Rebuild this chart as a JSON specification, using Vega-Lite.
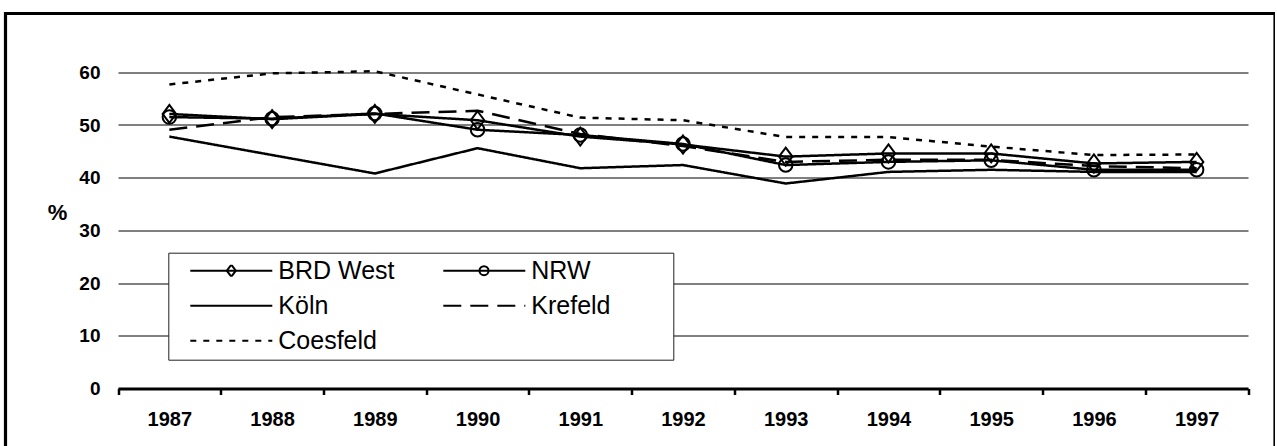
{
  "$schema": "https://vega.github.io/schema/vega-lite/v6.json",
  "width": 1269.5,
  "height": 440,
  "autosize": {"type": "none"},
  "padding": {"left": 5.5, "top": 13.5, "right": 0, "bottom": 0},
  "background": "white",
  "config": {
    "view": {"stroke": "#000", "strokeWidth": 3.2, "fill": "white"},
    "font": "Liberation Sans"
  },
  "data": {
    "values": [
      {"year": "1987", "series": "BRD West", "value": 52.1},
      {"year": "1988", "series": "BRD West", "value": 51.1},
      {"year": "1989", "series": "BRD West", "value": 52.1},
      {"year": "1990", "series": "BRD West", "value": 50.9},
      {"year": "1991", "series": "BRD West", "value": 47.8},
      {"year": "1992", "series": "BRD West", "value": 46.3},
      {"year": "1993", "series": "BRD West", "value": 44.0},
      {"year": "1994", "series": "BRD West", "value": 44.6},
      {"year": "1995", "series": "BRD West", "value": 44.6},
      {"year": "1996", "series": "BRD West", "value": 42.7},
      {"year": "1997", "series": "BRD West", "value": 43.0},
      {"year": "1987", "series": "NRW", "value": 51.5},
      {"year": "1988", "series": "NRW", "value": 51.2},
      {"year": "1989", "series": "NRW", "value": 52.2},
      {"year": "1990", "series": "NRW", "value": 49.1},
      {"year": "1991", "series": "NRW", "value": 48.1},
      {"year": "1992", "series": "NRW", "value": 46.4},
      {"year": "1993", "series": "NRW", "value": 42.4},
      {"year": "1994", "series": "NRW", "value": 43.0},
      {"year": "1995", "series": "NRW", "value": 43.3},
      {"year": "1996", "series": "NRW", "value": 41.5},
      {"year": "1997", "series": "NRW", "value": 41.5},
      {"year": "1987", "series": "Köln", "value": 47.8},
      {"year": "1988", "series": "Köln", "value": 44.3},
      {"year": "1989", "series": "Köln", "value": 40.8},
      {"year": "1990", "series": "Köln", "value": 45.6},
      {"year": "1991", "series": "Köln", "value": 41.8},
      {"year": "1992", "series": "Köln", "value": 42.4},
      {"year": "1993", "series": "Köln", "value": 38.9},
      {"year": "1994", "series": "Köln", "value": 41.1},
      {"year": "1995", "series": "Köln", "value": 41.5},
      {"year": "1996", "series": "Köln", "value": 41.1},
      {"year": "1997", "series": "Köln", "value": 41.1},
      {"year": "1987", "series": "Krefeld", "value": 49.1},
      {"year": "1988", "series": "Krefeld", "value": 51.5},
      {"year": "1989", "series": "Krefeld", "value": 52.1},
      {"year": "1990", "series": "Krefeld", "value": 52.7},
      {"year": "1991", "series": "Krefeld", "value": 48.3},
      {"year": "1992", "series": "Krefeld", "value": 46.0},
      {"year": "1993", "series": "Krefeld", "value": 43.0},
      {"year": "1994", "series": "Krefeld", "value": 43.4},
      {"year": "1995", "series": "Krefeld", "value": 43.4},
      {"year": "1996", "series": "Krefeld", "value": 42.2},
      {"year": "1997", "series": "Krefeld", "value": 41.8},
      {"year": "1987", "series": "Coesfeld", "value": 57.7},
      {"year": "1988", "series": "Coesfeld", "value": 59.8},
      {"year": "1989", "series": "Coesfeld", "value": 60.2},
      {"year": "1990", "series": "Coesfeld", "value": 55.8},
      {"year": "1991", "series": "Coesfeld", "value": 51.4},
      {"year": "1992", "series": "Coesfeld", "value": 50.9},
      {"year": "1993", "series": "Coesfeld", "value": 47.7},
      {"year": "1994", "series": "Coesfeld", "value": 47.7},
      {"year": "1995", "series": "Coesfeld", "value": 45.9},
      {"year": "1996", "series": "Coesfeld", "value": 44.3},
      {"year": "1997", "series": "Coesfeld", "value": 44.4}
    ]
  },
  "encoding": {
    "x": {
      "field": "year",
      "type": "ordinal",
      "scale": {"type": "band", "range": [112.5, 1242.5], "paddingInner": 0, "paddingOuter": 0},
      "axis": {
        "orient": "bottom",
        "offset": -65,
        "title": null,
        "grid": false,
        "domain": true,
        "domainColor": "#000",
        "domainWidth": 3,
        "ticks": true,
        "tickBand": "extent",
        "tickColor": "#000",
        "tickWidth": 2.5,
        "tickSize": 6,
        "labelFont": "Liberation Sans",
        "labelFontWeight": "bold",
        "labelFontSize": 20,
        "labelColor": "#000",
        "labelPadding": 15,
        "labelAngle": 0
      }
    },
    "y": {
      "field": "value",
      "type": "quantitative",
      "scale": {"domain": [0, 60], "range": [375, 58.8], "nice": false, "zero": false},
      "axis": {
        "values": [0, 10, 20, 30, 40, 50, 60],
        "offset": -94.5,
        "domain": false,
        "ticks": false,
        "tickSize": 0,
        "labelPadding": 0,
        "grid": true,
        "gridColor": "#000",
        "gridWidth": 1,
        "gridOpacity": 1,
        "labelFont": "Liberation Sans",
        "labelFontWeight": "bold",
        "labelFontSize": 19,
        "labelColor": "#000",
        "title": "%",
        "titleAngle": 0,
        "titleFont": "Liberation Sans",
        "titleFontWeight": "bold",
        "titleFontSize": 22,
        "titleColor": "#000",
        "titleX": -43,
        "titleY": 198.5,
        "titleAlign": "center",
        "titleBaseline": "middle"
      }
    }
  },
  "layer": [
    {
      "mark": {"type": "line", "color": "#000", "strokeWidth": 2.5},
      "encoding": {
        "detail": {"field": "series", "type": "nominal"},
        "strokeDash": {
          "field": "series",
          "type": "nominal",
          "scale": {
            "domain": ["BRD West", "Köln", "Coesfeld", "NRW", "Krefeld"],
            "range": [[1, 0], [1, 0], [6, 7], [1, 0], [18, 9]]
          },
          "legend": {
            "title": " ",
            "titleOrient": "right",
            "titlePadding": 57,
            "titleFontSize": 1,
            "orient": "none",
            "legendX": 162.8,
            "legendY": 239.2,
            "zindex": 1,
            "columns": 2,
            "gridAlign": "all",
            "columnPadding": 32,
            "rowPadding": 10,
            "padding": 6,
            "clipHeight": 24,
            "symbolOffset": 15,
            "symbolSize": 6724,
            "symbolStrokeWidth": 2,
            "symbolStrokeColor": "#000",
            "labelFont": "Liberation Sans",
            "labelFontSize": 25,
            "labelColor": "#000",
            "labelOffset": 5,
            "labelLimit": 400,
            "strokeColor": "#222",
            "fillColor": "white"
          }
        }
      }
    },
    {
      "transform": [{"filter": "datum.series === 'BRD West' || datum.series === 'NRW'"}],
      "mark": {"type": "point", "filled": false, "color": "#000", "strokeWidth": 2, "size": 324, "opacity": 1},
      "encoding": {
        "shape": {
          "field": "series",
          "type": "nominal",
          "scale": {
            "domain": ["BRD West", "NRW"],
            "range": ["M0,-1L0.75,0L0,1L-0.75,0Z", "M-0.75,0A0.75,0.75 0 1,0 0.75,0A0.75,0.75 0 1,0 -0.75,0Z"]
          },
          "legend": {
            "title": null,
            "orient": "none",
            "legendX": 218.8,
            "legendY": 251.2,
            "zindex": 2,
            "columns": 2,
            "gridAlign": "all",
            "columnPadding": 238.7,
            "padding": 0,
            "clipHeight": 12,
            "symbolOffset": 0,
            "symbolSize": 144,
            "symbolStrokeWidth": 2,
            "symbolStrokeColor": "#000",
            "symbolFillColor": "white",
            "labelExpr": "''",
            "labelFontSize": 1,
            "labelOffset": 0,
            "strokeColor": null,
            "fillColor": null
          }
        }
      }
    }
  ]
}
